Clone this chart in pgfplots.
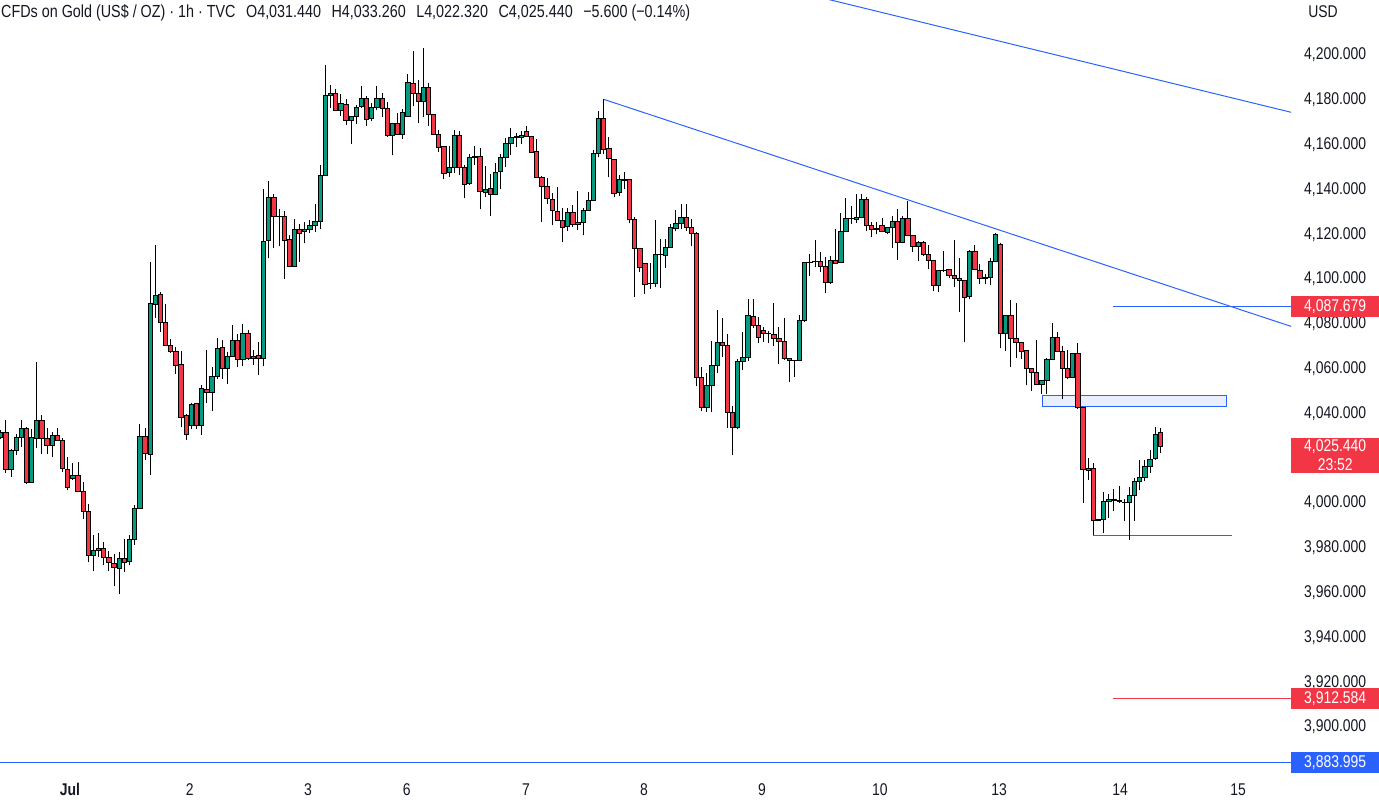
\documentclass[border=0pt]{standalone}
\usepackage{pgfplots}
\usepackage{pgfplotstable}
\pgfplotsset{compat=1.18}
\usepackage{fontspec}
\setmainfont[FakeStretch=0.82]{Liberation Sans}
\definecolor{tvgreen}{HTML}{089981}
\definecolor{tvred}{HTML}{F23645}
\definecolor{tvblue}{HTML}{2962FF}
\definecolor{tvtext}{HTML}{131722}
\definecolor{tvzone}{HTML}{E9EFFF}

\pgfplotstableread{
i o h l c
1 4029.3 4032.5 4028.5 4031.6
2 4031.6 4036.9 4013.3 4015.0
3 4015.0 4024.0 4011.7 4023.5
4 4023.5 4030.7 4021.3 4029.3
5 4029.3 4036.9 4024.9 4033.3
6 4033.3 4034.0 4008.3 4009.2
7 4009.2 4033.0 4009.2 4029.3
8 4028.9 4063.1 4024.4 4036.9
9 4036.9 4039.3 4021.7 4028.9
10 4028.9 4033.3 4021.7 4025.8
11 4025.8 4031.6 4020.4 4030.2
12 4030.2 4033.3 4028.0 4028.0
13 4028.0 4028.9 4014.0 4015.5
14 4015.0 4020.4 4005.7 4007.0
15 4011.0 4017.7 4010.1 4012.4
16 4012.4 4018.5 4005.2 4005.2
17 4005.2 4009.2 3992.7 3996.3
18 3996.3 3999.4 3973.5 3976.7
19 3976.7 3985.6 3969.5 3978.9
20 3978.9 3986.5 3976.0 3979.8
21 3979.8 3982.5 3972.2 3975.8
22 3975.8 3978.4 3969.5 3973.5
23 3973.1 3977.1 3962.8 3971.3
24 3970.8 3978.0 3959.5 3975.3
25 3975.3 3983.8 3969.1 3973.5
26 3974.0 3985.6 3972.2 3983.8
27 3983.8 3999.0 3981.1 3997.6
28 3997.6 4035.1 3997.6 4029.8
29 4029.8 4033.3 4019.1 4022.2
30 4021.7 4107.5 4012.4 4089.2
31 4088.7 4115.0 4082.5 4092.7
32 4093.2 4094.0 4076.2 4080.7
33 4080.7 4088.7 4070.4 4070.4
34 4070.4 4073.1 4066.8 4067.7
35 4067.7 4069.5 4057.5 4061.5
36 4061.9 4067.7 4033.8 4038.3
37 4039.2 4039.6 4028.0 4030.7
38 4034.7 4044.6 4032.9 4044.1
39 4044.5 4044.6 4032.9 4034.7
40 4034.7 4052.6 4030.2 4051.2
41 4050.8 4068.2 4044.5 4049.4
42 4049.4 4060.6 4040.9 4056.6
43 4056.6 4073.5 4055.2 4069.1
44 4069.5 4072.6 4055.2 4060.1
45 4060.1 4067.3 4053.0 4065.5
46 4065.5 4079.3 4065.5 4072.6
47 4072.6 4075.3 4060.6 4064.2
48 4064.2 4079.8 4061.0 4075.8
49 4075.8 4077.1 4063.7 4064.6
50 4064.6 4068.2 4061.5 4065.5
51 4065.9 4071.7 4057.0 4064.6
52 4064.6 4140.0 4061.0 4116.8
53 4117.3 4143.6 4109.2 4136.5
54 4136.5 4137.8 4113.7 4128.0
55 4128.0 4131.1 4114.6 4127.8
56 4128.0 4130.2 4100.0 4117.3
57 4117.7 4119.5 4105.3 4105.7
58 4105.7 4126.6 4105.3 4122.1
59 4122.3 4124.4 4107.7 4120.5
60 4121.0 4125.4 4115.9 4121.9
61 4122.3 4126.2 4120.5 4123.9
62 4123.9 4133.4 4120.8 4125.8
63 4125.8 4150.8 4122.2 4146.3
64 4146.3 4195.4 4146.3 4182.0
65 4182.0 4186.5 4176.2 4182.9
66 4182.9 4184.7 4174.9 4175.3
67 4175.3 4182.4 4172.6 4178.4
68 4178.0 4180.2 4168.6 4170.8
69 4170.8 4172.6 4160.1 4172.6
70 4172.6 4177.6 4169.1 4176.7
71 4177.1 4186.0 4176.2 4180.7
72 4180.7 4181.6 4168.2 4171.3
73 4171.7 4178.4 4170.4 4176.7
74 4176.7 4186.0 4175.3 4180.7
75 4180.7 4182.9 4172.2 4176.2
76 4176.2 4178.9 4163.3 4164.2
77 4164.2 4169.5 4155.2 4169.5
78 4169.5 4174.0 4164.6 4164.6
79 4164.6 4175.8 4162.4 4174.4
80 4172.6 4191.4 4172.6 4187.8
81 4187.4 4201.6 4177.1 4182.9
82 4182.9 4188.7 4169.5 4179.3
83 4179.3 4203.0 4172.2 4185.6
84 4185.6 4187.4 4168.2 4173.5
85 4173.5 4173.5 4164.6 4164.6
86 4164.6 4166.4 4156.6 4158.8
87 4159.2 4159.2 4144.5 4147.2
88 4147.6 4159.2 4145.4 4149.9
89 4149.9 4166.4 4147.2 4164.2
90 4164.2 4166.0 4146.3 4149.9
91 4149.9 4150.8 4136.0 4142.3
92 4142.7 4155.7 4141.8 4154.3
93 4154.8 4159.2 4150.8 4154.3
94 4154.8 4158.3 4131.1 4139.2
95 4138.7 4150.3 4136.5 4140.0
96 4140.5 4146.7 4128.0 4137.8
97 4137.8 4151.6 4137.4 4147.6
98 4148.1 4155.7 4140.0 4154.3
99 4154.3 4162.8 4149.9 4160.6
100 4160.6 4167.3 4155.2 4163.3
101 4163.0 4165.0 4158.8 4163.5
102 4163.3 4165.9 4160.1 4164.2
103 4165.9 4168.2 4163.3 4163.7
104 4163.7 4163.7 4156.6 4156.6
105 4157.0 4162.4 4145.0 4145.4
106 4145.4 4146.0 4125.3 4141.4
107 4141.4 4145.0 4133.4 4136.0
108 4135.6 4138.3 4124.0 4130.7
109 4130.2 4140.9 4126.2 4126.2
110 4126.2 4131.6 4116.4 4123.1
111 4123.5 4131.6 4121.3 4129.8
112 4129.8 4132.9 4123.1 4124.4
113 4125.3 4139.2 4121.7 4124.4
114 4125.3 4131.6 4119.5 4130.7
115 4130.7 4138.7 4130.7 4135.1
116 4135.1 4157.5 4135.1 4156.1
117 4156.1 4174.9 4154.3 4171.7
118 4171.7 4180.2 4155.7 4157.9
119 4158.3 4163.3 4145.4 4153.9
120 4153.4 4153.4 4136.5 4138.3
121 4138.7 4146.3 4137.0 4144.5
122 4144.3 4147.6 4140.0 4144.2
123 4144.3 4144.5 4124.9 4126.6
124 4126.6 4127.5 4091.8 4113.7
125 4113.7 4113.7 4103.0 4105.2
126 4107.0 4107.0 4093.2 4097.6
127 4098.1 4107.0 4095.4 4098.0
128 4098.1 4126.2 4096.3 4111.0
129 4111.0 4117.7 4095.9 4110.9
130 4110.6 4117.7 4104.8 4114.1
131 4114.1 4124.4 4114.1 4123.1
132 4122.6 4130.7 4121.3 4124.9
133 4124.9 4133.4 4122.2 4127.5
134 4127.5 4133.4 4121.3 4123.1
135 4123.1 4127.0 4114.6 4120.4
136 4120.4 4121.0 4052.1 4056.1
137 4056.1 4060.6 4040.9 4042.7
138 4042.7 4057.9 4040.5 4052.5
139 4052.5 4072.2 4040.5 4061.5
140 4061.5 4086.0 4057.9 4071.7
141 4071.7 4082.5 4065.0 4070.4
142 4070.4 4075.3 4033.3 4040.5
143 4040.5 4043.2 4021.3 4033.8
144 4033.8 4064.2 4032.9 4063.3
145 4063.3 4076.2 4059.2 4065.0
146 4065.0 4091.0 4063.3 4083.8
147 4083.4 4091.0 4078.0 4079.3
148 4079.3 4082.9 4071.3 4074.0
149 4077.1 4078.4 4071.7 4075.8
150 4075.8 4077.0 4071.3 4075.7
151 4075.3 4089.2 4070.0 4073.5
152 4073.5 4078.4 4061.9 4072.2
153 4072.2 4082.5 4064.0 4064.6
154 4064.6 4064.6 4053.9 4063.7
155 4063.7 4064.0 4056.1 4063.8
156 4063.7 4083.8 4063.7 4081.6
157 4081.6 4107.5 4081.0 4107.5
158 4107.5 4111.0 4101.2 4107.6
159 4107.9 4117.3 4105.2 4108.0
160 4107.9 4111.9 4103.0 4105.7
161 4105.7 4109.7 4093.6 4098.5
162 4098.5 4110.1 4097.6 4108.3
163 4108.3 4122.1 4107.0 4107.0
164 4107.5 4129.3 4107.0 4121.3
165 4121.3 4136.0 4121.3 4127.1
166 4127.1 4132.4 4124.4 4127.2
167 4126.6 4137.8 4124.9 4127.5
168 4127.5 4137.8 4127.5 4135.6
169 4135.6 4136.5 4121.3 4124.0
170 4124.0 4125.3 4118.6 4122.1
171 4122.0 4125.3 4119.9 4122.5
172 4124.0 4127.1 4120.8 4121.3
173 4120.8 4123.1 4120.0 4123.1
174 4123.1 4128.0 4113.7 4125.8
175 4125.8 4131.1 4108.3 4116.4
176 4116.4 4128.0 4115.9 4127.1
177 4127.1 4134.7 4119.5 4119.5
178 4119.5 4119.5 4111.9 4114.6
179 4114.6 4116.8 4107.9 4116.4
180 4116.4 4116.8 4110.1 4111.0
181 4111.0 4115.0 4104.3 4108.3
182 4108.3 4108.3 4094.5 4097.2
183 4097.2 4104.0 4094.1 4103.9
184 4103.9 4112.4 4103.0 4104.0
185 4104.3 4104.3 4100.3 4101.6
186 4101.6 4117.3 4096.3 4100.3
187 4100.3 4109.2 4085.1 4099.4
188 4099.4 4099.4 4071.7 4091.8
189 4092.3 4112.8 4090.9 4112.4
190 4112.4 4115.0 4104.3 4104.3
191 4103.9 4106.6 4097.6 4100.3
192 4100.3 4102.1 4097.6 4100.8
193 4100.8 4109.2 4097.2 4107.9
194 4107.9 4120.5 4107.9 4120.0
195 4115.5 4116.0 4069.1 4075.8
196 4075.8 4084.0 4067.7 4083.8
197 4083.8 4090.5 4060.6 4073.5
198 4073.5 4089.2 4064.6 4071.7
199 4071.7 4072.0 4064.2 4067.7
200 4068.2 4068.2 4052.5 4060.1
201 4060.1 4060.1 4049.9 4058.3
202 4058.3 4072.6 4052.5 4052.9
203 4052.9 4055.0 4048.6 4054.8
204 4054.8 4064.6 4048.6 4064.2
205 4064.2 4080.2 4064.0 4074.0
206 4074.0 4076.2 4067.7 4067.7
207 4067.7 4070.0 4046.3 4060.1
208 4060.1 4068.2 4055.2 4056.1
209 4056.1 4066.8 4055.7 4066.8
210 4066.8 4071.3 4041.8 4042.5
211 4042.7 4042.7 3999.9 4015.0
212 4014.6 4020.0 4010.1 4015.5
213 4015.5 4017.7 3985.6 3992.3
214 3992.3 3993.0 3992.0 3992.5
215 3992.7 4004.8 3986.5 4000.8
216 4000.8 4003.9 3993.2 4001.7
217 4001.3 4006.1 3996.3 4001.4
218 4001.3 4007.5 4000.0 4000.8
219 4000.3 4002.0 3991.8 4000.4
220 4000.3 4007.0 3983.3 4003.4
221 4003.4 4011.0 3991.8 4009.7
222 4009.7 4019.1 4005.7 4011.5
223 4011.5 4019.1 4009.7 4016.4
224 4016.4 4023.5 4013.3 4019.5
225 4020.0 4033.8 4019.1 4030.7
226 4031.44 4033.26 4022.32 4025.44
}\candles

\pgfplotsset{
  tvaxis/.style={
    scale only axis, width=1291bp, height=776bp,
    at={(0bp,28bp)}, anchor=south west,
    xmin=0.864, xmax=251.35, ymin=3878.13, ymax=4224.55,
    axis line style={draw=none},
    tick style={draw=none}, major tick length=0pt,
    tick label style={font=\fontsize{17bp}{19bp}\selectfont, text=tvtext},
    yticklabel pos=right,
    yticklabel style={anchor=west, minimum width=88bp, minimum height=21bp, inner xsep=0pt, inner ysep=2bp, align=center},
  },
}

\begin{document}
\begin{tikzpicture}
\path[use as bounding box] (0,0) rectangle (1379bp,804bp);
\begin{axis}[tvaxis,
  /pgf/number format/fixed, /pgf/number format/fixed zerofill,
  /pgf/number format/precision=3, /pgf/number format/1000 sep={,},
  /pgf/number format/assume math mode=true,
  xtick={14.45,37.7,60.6,79.8,102.9,125.8,148.7,171.6,194.7,218.2,241.1},
  xticklabels={\textbf{Jul},2,3,6,7,8,9,10,13,14,15},
  xticklabel style={anchor=base, yshift=-19.5bp, inner sep=0pt},
  ytick={3900,3920,3940,3960,3980,4000,4040,4060,4080,4100,4120,4140,4160,4180,4200},
  extra y ticks={4087.679,3912.584},
  extra y tick labels={4{,}087.679,3{,}912.584},
  extra y tick style={yticklabel style={fill=tvred, text=white}},
]
% zone
\addplot[fill=tvzone, draw=tvblue, line width=1bp] coordinates {(203.1,4043.2) (238.9,4043.2) (238.9,4048.1) (203.1,4048.1)} -- cycle;
% trend lines
\addplot[tvblue, line width=1bp] coordinates {(150,4231.3) (253,4173.5)};
\addplot[tvblue, line width=1bp] coordinates {(118,4180.2) (253,4077.6)};
% horizontal levels
\addplot[tvblue, line width=1bp] coordinates {(216.8,4087.679) (253,4087.679)};
\addplot[tvred, line width=1bp] coordinates {(216.8,3912.584) (253,3912.584)};
\addplot[tvblue, line width=1bp] coordinates {(0,3883.995) (253,3883.995)};
\addplot[tvblue, line width=1bp] coordinates {(212.9,3985.7) (239.9,3985.7)};
% wicks
\addplot[draw=none, mark=none, error bars/.cd, y dir=plus, y explicit, error mark=none,
  error bar style={draw=black, solid, line width=1bp}]
  table[x=i, y=l, y error plus expr=\thisrow{h}-\thisrow{l}] {\candles};
\end{axis}
\begin{axis}[tvaxis, ybar stacked, bar width=4.3bp,
  xtick=\empty, ytick=\empty,
  extra y ticks={4025.44}, extra y tick labels={4{,}025.440\\23:52},
  extra y tick style={yticklabel style={fill=tvred, text=white, yshift=-9.5bp}},
]
\addplot[draw=none, fill=none] table[x=i, y expr={min(\thisrow{o},\thisrow{c})}] {\candles};
\addplot[draw=black, line width=0.9bp, fill=tvgreen] table[x=i, y expr={max(\thisrow{c}-\thisrow{o},0)}] {\candles};
\addplot[draw=black, line width=0.9bp, fill=tvred] table[x=i, y expr={max(\thisrow{o}-\thisrow{c},0)}] {\candles};
\end{axis}
\begin{axis}[tvaxis, xtick=\empty, ytick=\empty,
  extra y ticks={3883.995}, extra y tick labels={3{,}883.995},
  extra y tick style={yticklabel style={fill=tvblue, text=white}},
]
\addplot[draw=none] coordinates {(1,3883.995)};
\end{axis}
\node[anchor=base west, inner sep=0pt, font=\fontsize{17.5bp}{20bp}\selectfont, text=tvtext] at (1bp,786.5bp)
 {CFDs on Gold (US\$ / OZ) · 1h · TVC\hspace{10.5bp}O4,031.440\hspace{10.5bp}H4,033.260\hspace{10.5bp}L4,022.320\hspace{10.5bp}C4,025.440\hspace{10.5bp}−5.600 (−0.14\%)};
\node[anchor=base, inner sep=0pt, font=\fontsize{17bp}{19bp}\selectfont, text=tvtext] at (1323bp,786.5bp) {USD};
\end{tikzpicture}
\end{document}
